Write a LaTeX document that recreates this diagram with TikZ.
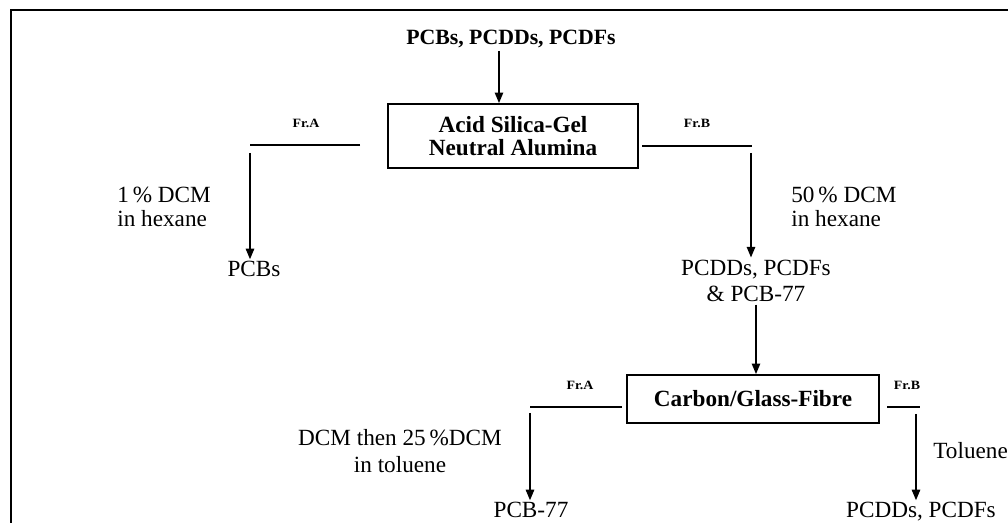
\documentclass[tikz,border=0pt]{standalone}
\usepackage{fontspec}
\setmainfont{Liberation Serif}
\newfontfamily\frfont{Liberation Serif}[FakeStretch=1.1]
\usetikzlibrary{arrows.meta,positioning}

\begin{document}
\begin{tikzpicture}[
    x=0.025cm, y=-0.025cm,
    box/.style={rectangle, draw, line width=1.3pt, align=center, font=\fontsize{16.5}{16}\selectfont\bfseries},
    txt/.style={inner sep=1.5pt, font=\fontsize{16.5}{19}\selectfont},
    frlabel/.style={inner sep=0pt, font=\frfont\bfseries\fontsize{9}{10}\selectfont},
    arrow/.style={-{Triangle[length=7.5pt,width=6pt]}, line width=1pt},
    branch/.style={line width=1pt}
]
    \useasboundingbox (0,0) rectangle (1008,523);
    \draw[line width=1.4pt] (11,523) -- (11,10) -- (1008,10);

    \node[txt, anchor=base, font=\fontsize{15.5}{18}\selectfont\bfseries] (src) at (511,45) {PCBs, PCDDs, PCDFs};
    \node[box, minimum width=6.25cm, minimum height=1.6cm] (sga) at (513,136) {Acid Silica-Gel\\Neutral Alumina};
    \node[frlabel, anchor=base] (fra1) at (306,128) {Fr.A};
    \node[frlabel, anchor=base] (frb1) at (697,128) {Fr.B};
    \node[txt, align=left, anchor=west, font=\fontsize{16.5}{17}\selectfont] (hex1) at (115,207) {1\,\% DCM\\in hexane};
    \node[txt, anchor=base] (pcbs) at (254,277) {PCBs};
    \node[txt, align=left, anchor=west, font=\fontsize{16.5}{17}\selectfont] (hex2) at (789,207) {50\,\% DCM\\in hexane};
    \node[txt, align=center] (mix) at (756,281) {PCDDs, PCDFs\\\& PCB-77};
    \node[box, minimum width=6.3cm, minimum height=1.2cm] (cgf) at (753,399) {Carbon/Glass-Fibre};
    \node[frlabel, anchor=base] (fra2) at (580,390) {Fr.A};
    \node[frlabel, anchor=base] (frb2) at (907,390) {Fr.B};
    \node[txt, align=center] (tol1) at (400,451) {DCM then 25\,\%DCM\\in toluene};
    \node[txt, anchor=base] (pcb77) at (531,518) {PCB-77};
    \node[txt, anchor=base west] (tol2) at (931,459) {Toluene};
    \node[txt, anchor=base] (dioxins) at (921,518) {PCDDs, PCDFs};

    \coordinate (fa1) at (360,145);
    \coordinate (fa2) at (250,145);
    \coordinate (fa3) at (250,153);
    \coordinate (fb1) at (642,146);
    \coordinate (fb2) at (752,146);
    \coordinate (fb3) at (751,153);
    \coordinate (ga1) at (622,407);
    \coordinate (ga2) at (530,407);
    \coordinate (ga3) at (530,413);
    \coordinate (gb1) at (887,407);
    \coordinate (gb2) at (920,407);
    \coordinate (gb3) at (916,414);

    \draw[arrow] ([xshift=-0.3cm]src.south) -- ([xshift=-0.3cm]src.south |- sga.north);
    \draw[branch] (fa1) -- (fa2);
    \draw[arrow] (fa3) -- (fa3 |- pcbs.north);
    \draw[branch] (fb1) -- (fb2);
    \draw[arrow] (fb3) -- (fb3 |- mix.north);
    \draw[arrow] (mix.south) -- (mix.south |- cgf.north);
    \draw[branch] (ga1) -- (ga2);
    \draw[arrow] (ga3) -- (ga3 |- pcb77.north);
    \draw[branch] (gb1) -- (gb2);
    \draw[arrow] (gb3) -- (gb3 |- dioxins.north);
\end{tikzpicture}
\end{document}
